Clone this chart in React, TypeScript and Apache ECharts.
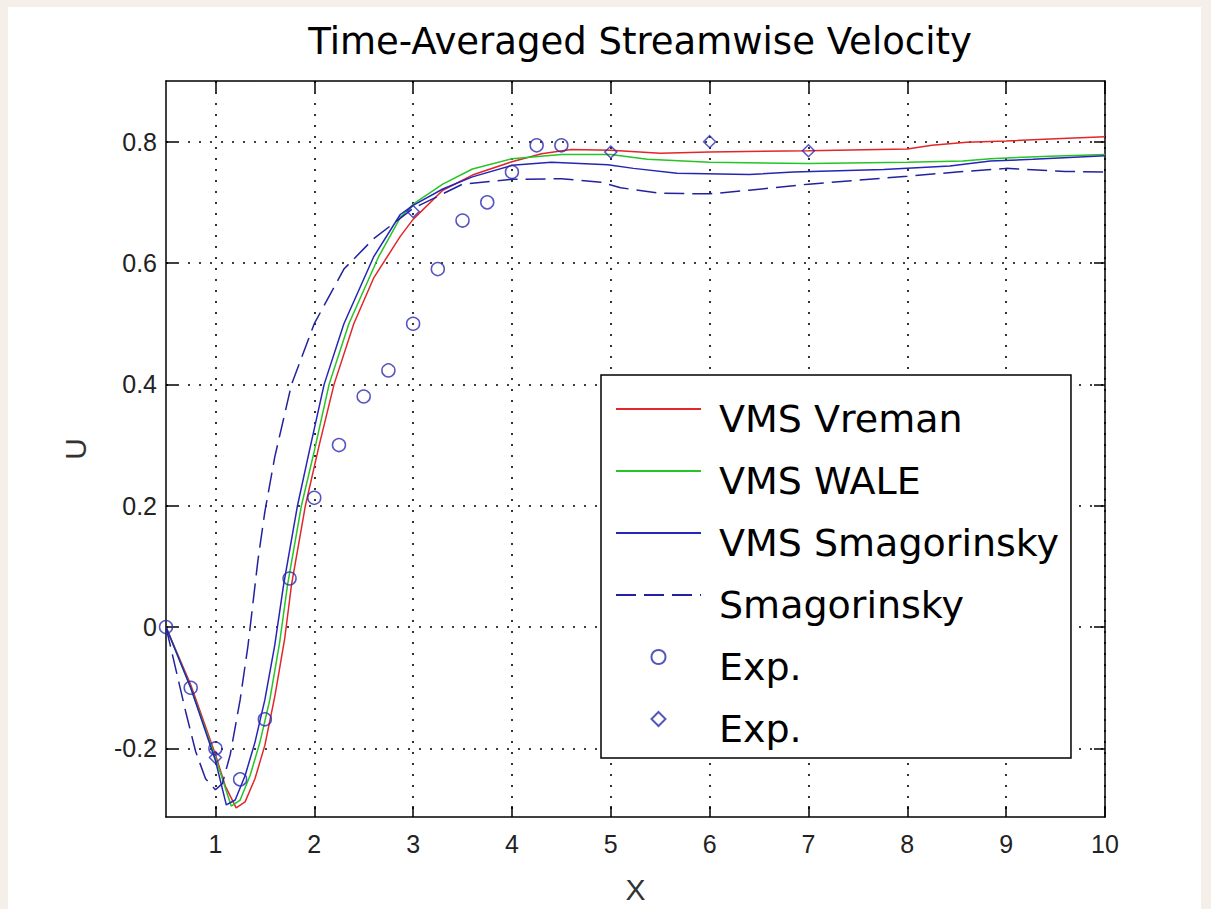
import React, { useEffect, useRef } from "react";
import * as echarts from "echarts";

const titleText = "Time-Averaged Streamwise Velocity";
const xTicks = [1, 2, 3, 4, 5, 6, 7, 8, 9, 10];
const yTicks = [-0.2, 0, 0.2, 0.4, 0.6, 0.8];

const vremanX = [0.5, 0.75, 1.0, 1.1, 1.21, 1.3, 1.4, 1.5, 1.6, 1.7, 1.77, 1.91, 2.05, 2.2, 2.4, 2.6, 2.87, 3.0, 3.3, 3.6, 4.0, 4.3, 4.6, 5.0, 5.5, 6.0, 7.0, 8.0, 8.25, 8.6, 9.0, 9.5, 10];
const vremanU = [0, -0.095, -0.21, -0.262, -0.298, -0.288, -0.25, -0.195, -0.115, -0.02, 0.07, 0.2, 0.3, 0.4, 0.5, 0.575, 0.644, 0.672, 0.72, 0.745, 0.767, 0.78, 0.787, 0.786, 0.781, 0.783, 0.785, 0.788, 0.794, 0.799, 0.801, 0.805, 0.808];

const waleX = [0.5, 0.75, 1.0, 1.16, 1.25, 1.35, 1.45, 1.55, 1.65, 1.73, 1.87, 2.0, 2.15, 2.35, 2.65, 2.87, 3.0, 3.3, 3.6, 4.0, 4.5, 5.0, 5.37, 6.0, 7.0, 8.0, 8.56, 8.84, 9.44, 10];
const waleU = [0, -0.1, -0.215, -0.295, -0.285, -0.245, -0.19, -0.12, -0.025, 0.07, 0.2, 0.29, 0.4, 0.5, 0.61, 0.675, 0.697, 0.73, 0.755, 0.772, 0.779, 0.779, 0.771, 0.766, 0.764, 0.766, 0.768, 0.772, 0.776, 0.779];

const vmsSmagX = [0.5, 0.75, 1.0, 1.11, 1.2, 1.3, 1.4, 1.5, 1.6, 1.69, 1.83, 1.95, 2.1, 2.3, 2.6, 2.87, 3.0, 3.3, 3.6, 4.0, 4.4, 4.97, 5.23, 5.67, 6.4, 6.85, 7.76, 8.43, 8.84, 9.27, 10];
const vmsSmagU = [0, -0.1, -0.22, -0.293, -0.285, -0.245, -0.19, -0.12, -0.03, 0.07, 0.2, 0.29, 0.4, 0.5, 0.61, 0.68, 0.695, 0.722, 0.742, 0.761, 0.766, 0.762, 0.756, 0.748, 0.746, 0.75, 0.754, 0.76, 0.768, 0.771, 0.777];

const smagX = [0.5, 0.6, 0.7, 0.8, 0.9, 1.0, 1.07, 1.15, 1.25, 1.33, 1.43, 1.5, 1.6, 1.77, 2.0, 2.3, 2.6, 3.0, 3.5, 4.0, 4.5, 4.9, 5.1, 5.5, 6.0, 6.4, 7.0, 8.0, 8.5, 9.0, 9.6, 10];
const smagU = [0, -0.07, -0.14, -0.205, -0.25, -0.268, -0.258, -0.21, -0.12, -0.03, 0.11, 0.19, 0.28, 0.4, 0.5, 0.59, 0.64, 0.69, 0.73, 0.738, 0.739, 0.733, 0.724, 0.715, 0.714, 0.72, 0.73, 0.743, 0.75, 0.756, 0.751, 0.75];

const expCircleX = [0.5, 0.75, 1, 1.25, 1.5, 1.75, 2, 2.25, 2.5, 2.75, 3, 3.25, 3.5, 3.75, 4, 4.25, 4.5];
const expCircleU = [0, -0.1, -0.2, -0.251, -0.152, 0.08, 0.213, 0.3, 0.38, 0.423, 0.5, 0.59, 0.67, 0.7, 0.75, 0.794, 0.794];

const expDiamondX = [1, 3, 5, 6, 7];
const expDiamondU = [-0.215, 0.685, 0.783, 0.8, 0.785];

const seriesNames = ["VMS Vreman", "VMS WALE", "VMS Smagorinsky", "Smagorinsky", "Exp.", "Exp. "];

const zip = (xs: number[], ys: number[]) => xs.map((x, i) => [x, ys[i]]);

const RED = "#e3262a";
const GREEN = "#26c426";
const BLUE = "#2525b8";
const DBLUE = "#22229f";
const MBLUE = "#2b2bb2";

const tickFont = { fontFamily: "Liberation Sans", fontSize: 25, color: "#222" };

function makeXAxis(pos: "bottom" | "top", main: boolean) {
  return {
    type: "value",
    min: 0.5,
    max: 10,
    position: pos,
    name: main ? "X" : "",
    nameLocation: "middle",
    nameGap: 57,
    nameTextStyle: { fontFamily: "Liberation Sans", fontSize: 30, color: "#333" },
    axisLine: { show: true, onZero: false, lineStyle: { color: "#000", width: 1.5 } },
    axisTick: { show: true, inside: true, length: 11, customValues: xTicks, lineStyle: { color: "#000", width: 1.5 } },
    axisLabel: { show: main, customValues: xTicks, margin: 14, ...tickFont, formatter: (v: number) => String(v) },
    splitLine: { show: main, lineStyle: { color: "#000", width: 1.6, type: [2, 9] } },
  };
}

function makeYAxis(pos: "left" | "right", main: boolean) {
  return {
    type: "value",
    min: -0.313,
    max: 0.9,
    position: pos,
    name: main ? "U" : "",
    nameLocation: "middle",
    nameGap: 76,
    nameRotate: 90,
    nameTextStyle: { fontFamily: "Liberation Sans", fontSize: 30, color: "#333" },
    axisLine: { show: true, onZero: false, lineStyle: { color: "#000", width: 1.5 } },
    axisTick: { show: true, inside: true, length: 11, customValues: yTicks, lineStyle: { color: "#000", width: 1.5 } },
    axisLabel: { show: main, customValues: yTicks, margin: 9, ...tickFont, formatter: (v: number) => String(v) },
    splitLine: { show: main, lineStyle: { color: "#000", width: 1.6, type: [2, 9] } },
  };
}

export default function App() {
  const ref = useRef<HTMLDivElement>(null);
  useEffect(() => {
    const chart = echarts.init(ref.current!, null, { renderer: "svg" });
    chart.setOption({
      animation: false,
      backgroundColor: "#fff",
      title: {
        text: titleText,
        left: 632,
        top: 16,
        textAlign: "center",
        padding: 0,
        textStyle: { fontFamily: "DejaVu Sans", fontSize: 37, fontWeight: "normal", color: "#000" },
      },
      grid: { left: 158, top: 74, width: 939, height: 736, containLabel: false },
      xAxis: [makeXAxis("bottom", true), makeXAxis("top", false)],
      yAxis: [makeYAxis("left", true), makeYAxis("right", false)],
      legend: {
        orient: "vertical",
        left: 593,
        top: 368,
        padding: [5, 12, 10, 14],
        itemWidth: 85,
        itemHeight: 14,
        itemGap: 4,
        selectedMode: false,
        backgroundColor: "#fff",
        borderColor: "#000",
        borderWidth: 1.5,
        borderRadius: 0,
        formatter: (n: string) => "{a|" + n.trim() + "}",
        textStyle: {
          fontFamily: "DejaVu Sans",
          fontSize: 38,
          color: "#000",
          rich: { a: { fontFamily: "DejaVu Sans", fontSize: 38, lineHeight: 38, color: "#000", padding: [20, 0, 0, 13] } },
        },
        data: seriesNames.map((n, i) => (i < 4 ? { name: n, itemStyle: { opacity: 0 } } : { name: n })),
      },
      series: [
        { name: seriesNames[0], type: "line", data: zip(vremanX, vremanU), symbol: "none", lineStyle: { color: RED, width: 1.5 }, itemStyle: { color: RED }, z: 3 },
        { name: seriesNames[1], type: "line", data: zip(waleX, waleU), symbol: "none", lineStyle: { color: GREEN, width: 1.5 }, itemStyle: { color: GREEN }, z: 3 },
        { name: seriesNames[2], type: "line", data: zip(vmsSmagX, vmsSmagU), symbol: "none", lineStyle: { color: BLUE, width: 1.5 }, itemStyle: { color: BLUE }, z: 3 },
        { name: seriesNames[3], type: "line", data: zip(smagX, smagU), symbol: "none", lineStyle: { color: DBLUE, width: 1.5, type: [20, 8] }, itemStyle: { color: DBLUE }, z: 3 },
        {
          name: seriesNames[4], type: "scatter", data: zip(expCircleX, expCircleU), symbol: "circle", symbolSize: 13,
          itemStyle: { color: "rgba(255,255,255,0)", borderColor: MBLUE, borderWidth: 1.5 }, z: 4,
        },
        {
          name: seriesNames[5], type: "scatter", data: zip(expDiamondX, expDiamondU), symbol: "path://M0,-1L1,0L0,1L-1,0Z", symbolKeepAspect: true, symbolSize: 12,
          itemStyle: { color: "rgba(255,255,255,0)", borderColor: MBLUE, borderWidth: 1.5 }, z: 4,
        },
      ],
    });
    return () => chart.dispose();
  }, []);
  return (
    <div style={{ position: "fixed", left: 0, top: 0, width: 1211, height: 909, background: "#f4f0e9" }}>
      <div ref={ref} style={{ position: "absolute", left: 8, top: 7, width: 1193, height: 902, background: "#fff" }} />
    </div>
  );
}
